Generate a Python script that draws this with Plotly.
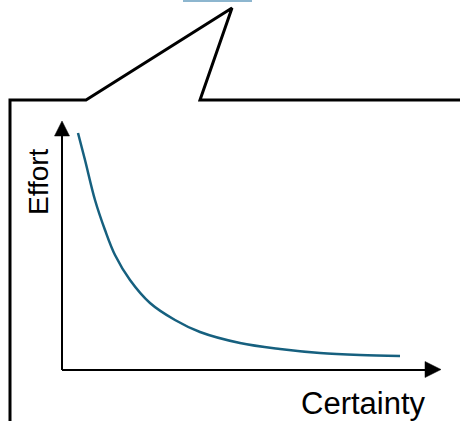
import plotly.graph_objects as go

# diagram geometry, in pixel-like units (y grows downward)
bubble_x = [10, 10, 86, 232, 200, 460]
bubble_y = [421, 100, 100, 8, 100, 100]

top_bar_x = [183, 252]
top_bar_y = [1, 1]

y_axis_x = [62, 62]
y_axis_y = [370, 134]
x_axis_x = [62, 427]
x_axis_y = [370, 370]

y_head_x = [54.5, 62, 69.5, 54.5]
y_head_y = [136, 121, 136, 136]
x_head_x = [425, 441, 425, 425]
x_head_y = [361.5, 369.5, 377.5, 361.5]

# curve
certainty = [78, 85, 95, 105, 115, 130, 150, 175, 200, 240, 280, 320, 360, 400]
effort = [133, 160, 200, 230, 255, 280, 303, 320, 332, 343, 349, 353, 355, 356]

labels = ["Effort", "Certainty"]

fig = go.Figure()
fig.add_trace(go.Scatter(x=top_bar_x, y=top_bar_y, mode="lines",
                         line=dict(color="#8db6cf", width=2)))
fig.add_trace(go.Scatter(x=bubble_x, y=bubble_y, mode="lines",
                         line=dict(color="black", width=3)))
fig.add_trace(go.Scatter(x=y_axis_x, y=y_axis_y, mode="lines",
                         line=dict(color="black", width=2)))
fig.add_trace(go.Scatter(x=x_axis_x, y=x_axis_y, mode="lines",
                         line=dict(color="black", width=2)))
for hx, hy in [(y_head_x, y_head_y), (x_head_x, x_head_y)]:
    fig.add_trace(go.Scatter(x=hx, y=hy, mode="lines", fill="toself",
                             fillcolor="black", line=dict(color="black", width=0.5)))
fig.add_trace(go.Scatter(x=certainty, y=effort, mode="lines",
                         line=dict(color="#16607f", width=2.5, shape="spline")))

fig.add_annotation(x=38, y=182, text=labels[0], textangle=-90, showarrow=False,
                   font=dict(family="Liberation Sans, Arial", size=28, color="black"))
fig.add_annotation(x=363.5, y=403, text=labels[1], showarrow=False,
                   font=dict(family="Liberation Sans, Arial", size=31, color="black"))

fig.update_layout(width=460, height=421, margin=dict(l=0, r=0, t=0, b=0),
                  showlegend=False, plot_bgcolor="white", paper_bgcolor="white",
                  xaxis=dict(range=[0, 460], visible=False, fixedrange=True),
                  yaxis=dict(range=[421, 0], visible=False, fixedrange=True))
# page has a default body margin; drop it so the figure sits at the corner
fig.write_html("out.html", config={"displayModeBar": False},
               post_script="document.body.style.margin='0';document.body.style.overflow='hidden';")
